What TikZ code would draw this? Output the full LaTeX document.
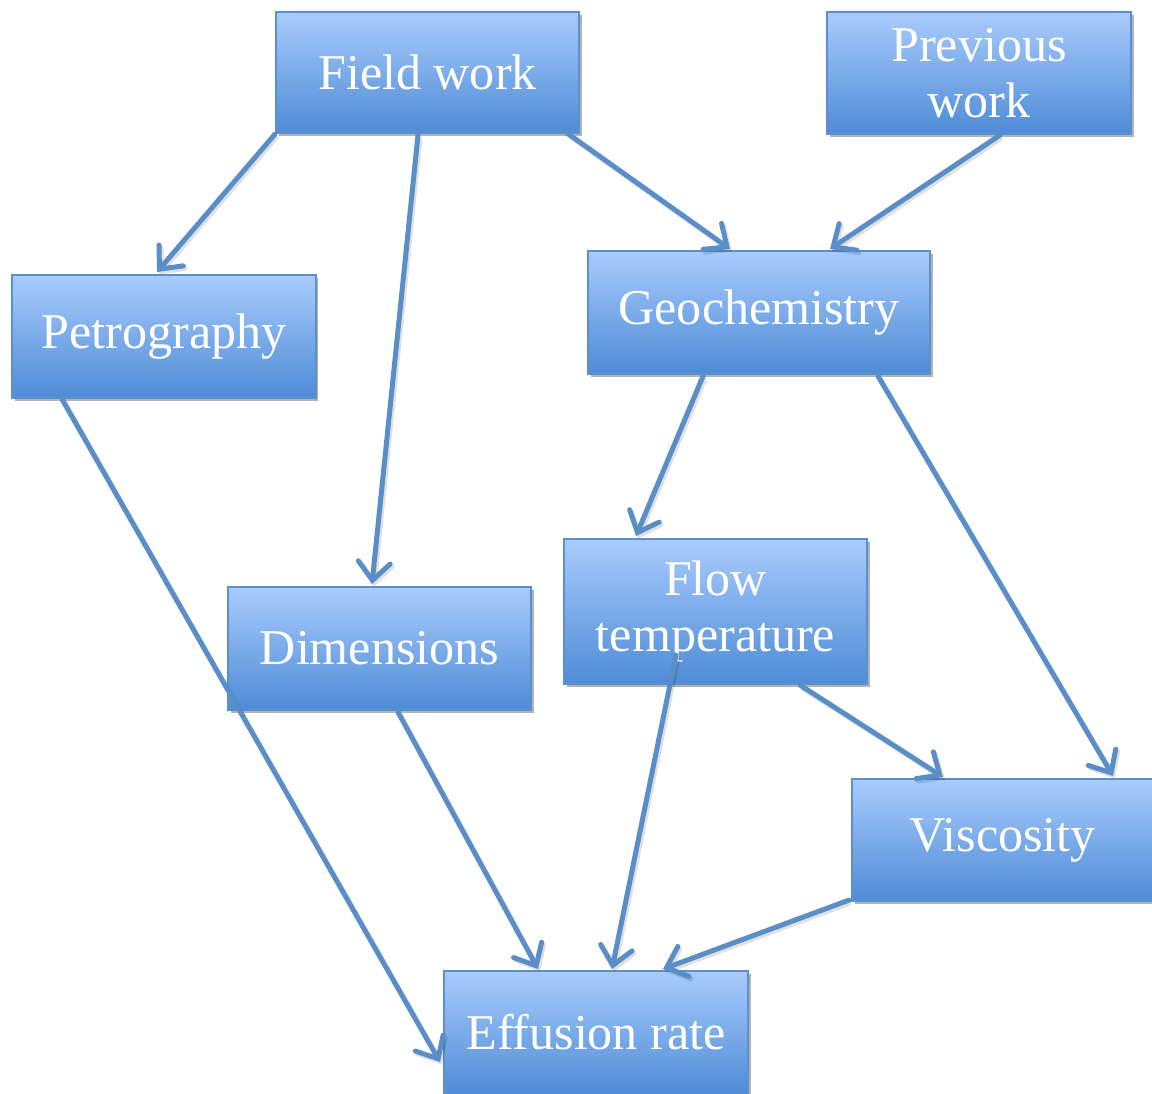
\documentclass[tikz,border=0pt]{standalone}
\usepackage{fontspec}
\setmainfont{Liberation Serif}
\usetikzlibrary{arrows.meta,calc,shadows}
\definecolor{boxtop}{HTML}{A9CBFD}
\definecolor{boxbot}{HTML}{4E8CD6}
\definecolor{boxline}{HTML}{5B8FCF}
\definecolor{arrowc}{HTML}{5A8EC8}
\tikzset{
  box/.style={rectangle, anchor=north west, inner sep=0pt, draw=boxline, line width=1.2pt,
    top color=boxtop, bottom color=boxbot, text=white, align=center,
    font=\fontsize{28.5}{31.5}\selectfont,
    drop shadow={shadow xshift=0.05cm, shadow yshift=-0.06cm, opacity=0.3, fill=black}},
  conn/.style={draw=arrowc, line width=0.1cm, line cap=round,
    preaction={draw=black, opacity=0.12, line width=0.1cm,
      transform canvas={shift={(0.04cm,-0.05cm)}}},
    -{Straight Barb[length=0.36cm, width=0.64cm, line cap=round]}}
}
\begin{document}
\begin{tikzpicture}[x={(0.02cm,0)}, y={(0,-0.02cm)}]
\useasboundingbox (0,0) rectangle (1152,1093);
\node[box, minimum width=6.06cm, minimum height=2.42cm] (fw) at (275,11) {Field work};
\node[box, minimum width=6.08cm, minimum height=2.44cm] (pw) at (826,11) {Previous\\work};
\node[box, minimum width=6.08cm, minimum height=2.46cm] (pet) at (11,274) {Petrography};
\node[box, minimum width=6.84cm, minimum height=2.46cm] (geo) at (587,250) {Geochemistry};
\node[box, minimum width=6.06cm, minimum height=2.46cm] (dim) at (227,586) {Dimensions};
\node[box, minimum width=6.06cm, minimum height=2.90cm] (ft) at (563,538) {Flow\\temperature};
\node[box, minimum width=6.02cm, minimum height=2.44cm] (vis) at (851,778) {Viscosity};
\node[box, minimum width=6.08cm, minimum height=2.46cm] (eff) at (443,970) {Effusion rate};

\draw[conn] (fw.south west) -- ($(pet.north west)+(146,-2)$);
\draw[conn] ($(fw.south west)+(143,1)$) -- ($(dim.north west)+(145,-2)$);
\draw[conn] ($(fw.south east)+(-13,-1)$) -- ($(geo.north west)+(143,-1)$);
\draw[conn] ($(pw.south west)+(174,0)$) -- ($(geo.north west)+(243,-1)$);
\draw[conn] ($(pet.south west)+(51,0)$) -- ($(eff.north west)+(-3,92)$);
\draw[conn] ($(geo.south west)+(116,1)$) -- ($(ft.north west)+(73,-2)$);
\draw[conn] ($(geo.south west)+(291,1)$) -- ($(vis.north west)+(262,-2)$);
\draw[conn] ($(ft.north west)+(113,117)$) -- ($(eff.north west)+(169,-1)$);
\draw[conn] ($(ft.south west)+(237,0)$) -- ($(vis.north west)+(92,-1)$);
\draw[conn] ($(dim.south west)+(171,1)$) -- ($(eff.north west)+(95,-1)$);
\draw[conn] ($(vis.south west)+(-2,-2)$) -- ($(eff.north west)+(220,-1)$);
\end{tikzpicture}
\end{document}
